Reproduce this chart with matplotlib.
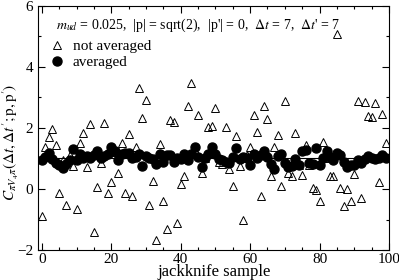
import numpy as np
import matplotlib
matplotlib.use('Agg')
import matplotlib.pyplot as plt
from matplotlib.ticker import MultipleLocator

plt.rcParams.update({
    'font.family': 'serif',
    'font.serif': ['Liberation Serif', 'DejaVu Serif'],
    'mathtext.fontset': 'stix',
    'font.size': 10,
    'xtick.direction': 'in',
    'ytick.direction': 'in',
    'xtick.top': True,
    'ytick.right': True,
})

# jackknife sample index
samples = np.arange(100)

# not averaged (open triangles)
not_averaged = [
    -0.88, 1.38, 1.70, 1.95, 1.43, -0.12, 0.95, -0.53, 1.10, 0.75,
    -0.66, 1.51, 1.83, 0.73, 2.13, -1.41, 0.07, 0.86, 2.16, -0.12,
    0.22, 1.20, 0.52, 1.51, -0.14, 1.81, -0.23, 1.39, 3.31, 2.33,
    2.91, -0.54, 0.25, -1.67, 1.47, -0.40, -1.30, 2.25, 2.19, -1.12,
    0.17, 0.44, 2.73, 3.47, 1.27, 2.43, 0.51, 1.00, 2.04, 2.06,
    2.65, 0.90, 0.82, 2.02, 0.65, 0.10, 1.73, 0.75, -1.02, 1.10,
    1.39, 2.43, 1.86, -0.23, 2.73, 2.30, 0.43, 1.39, 1.78, 0.10,
    2.89, 0.51, 0.44, 1.84, 0.80, 0.45, 1.45, 0.77, 0.03, -0.04,
    -0.40, 1.54, 1.00, 0.43, 0.43, 5.07, 0.03, -0.56, -0.01, -0.40,
    0.49, 2.89, -0.30, 2.85, 2.39, 2.35, 2.82, 0.23, 2.45, 1.51,
]

# averaged (filled circles)
averaged = [
    0.94, 1.06, 1.18, 0.97, 0.84, 0.77, 0.70, 0.82, 0.94, 1.30,
    0.94, 1.16, 1.03, 1.08, 1.01, 1.12, 1.25, 1.01, 1.08, 1.15,
    1.39, 1.25, 0.94, 1.16, 1.18, 1.18, 1.01, 1.05, 1.16, 0.75,
    1.08, 1.03, 0.98, 0.82, 1.16, 0.88, 1.12, 1.12, 0.90, 1.03,
    0.97, 1.15, 0.94, 1.16, 1.39, 1.06, 0.73, 1.03, 1.15, 1.39,
    1.15, 0.98, 0.94, 0.90, 0.84, 1.06, 1.34, 0.98, 1.06, 1.03,
    0.77, 1.16, 1.03, 1.10, 1.25, 1.06, 0.82, 0.67, 1.08, 1.16,
    0.84, 0.73, 0.75, 0.97, 0.80, 1.25, 1.27, 0.86, 0.82, 1.34,
    0.77, 1.01, 1.23, 1.06, 0.94, 1.18, 1.10, 0.88, 0.73, 0.77,
    0.80, 0.94, 0.86, 0.98, 1.08, 1.03, 0.98, 1.01, 1.12, 1.03,
]

header = (r"$m_{ud}$ = 0.025,  |p| = sqrt(2),  |p'| = 0,  "
          r"$\Delta t$ = 7,  $\Delta t$' = 7")

fig = plt.figure(figsize=(3.99, 2.80), dpi=100)
ax = fig.add_axes([0.096, 0.107, 0.879, 0.872])

ax.axhline(np.mean(averaged), color='black', linewidth=0.8, zorder=1)
ax.plot(samples, not_averaged, linestyle='none', marker='^', markersize=6,
        markerfacecolor='none', markeredgecolor='black', markeredgewidth=0.7,
        label='not averaged', zorder=2)
ax.plot(samples, averaged, linestyle='none', marker='o', markersize=6.5,
        color='black', label='averaged', zorder=3)

ax.set_xlim(-1, 100)
ax.set_ylim(-2, 6)
ax.xaxis.set_major_locator(MultipleLocator(20))
ax.xaxis.set_minor_locator(MultipleLocator(5))
ax.yaxis.set_major_locator(MultipleLocator(2))
ax.yaxis.set_minor_locator(MultipleLocator(1))
ax.tick_params(which='major', length=5, width=0.8, labelsize=11)
ax.tick_params(which='minor', length=2.5, width=0.8)
ax.tick_params(axis='x', pad=2)

ax.set_xlabel('jackknife sample', fontsize=12, labelpad=-1)
ax.set_ylabel(r"$C_{\pi V_4\pi}(\Delta t,\Delta t';\mathrm{p},\mathrm{p}')$",
              fontsize=11)
ax.yaxis.set_label_coords(-0.048, 0.44)

ax.text(0.05, 0.955, header, transform=ax.transAxes, fontsize=10,
        ha='left', va='top')
ax.legend(loc='upper left', bbox_to_anchor=(-0.01, 0.905), frameon=False,
          fontsize=11, handletextpad=0.3, borderpad=0.2, labelspacing=0.15,
          handlelength=1.5)

fig.savefig('out.png', dpi=100)
